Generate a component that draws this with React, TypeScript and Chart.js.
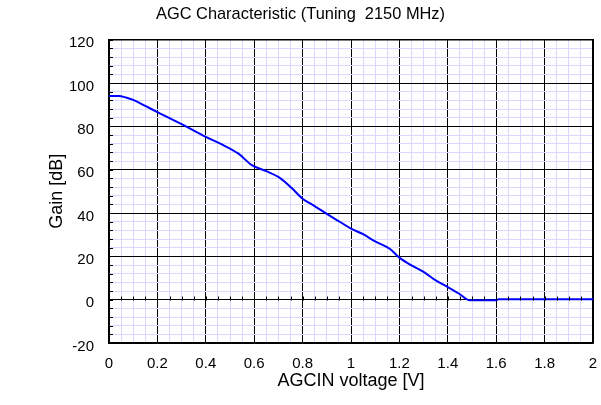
import React, { useEffect, useRef } from "react";
import { Chart, registerables } from "chart.js";

Chart.register(...registerables);

const titleText = "AGC Characteristic (Tuning  2150 MHz)";
const xTitle = "AGCIN voltage [V]";
const yTitle = "Gain [dB]";

const voltages = [0, 0.04, 0.07, 0.1, 0.15, 0.2, 0.3, 0.4, 0.46, 0.535, 0.59, 0.65, 0.71, 0.755, 0.8, 0.845, 0.9, 0.95, 1.0, 1.05, 1.1, 1.16, 1.2, 1.25, 1.3, 1.35, 1.4, 1.45, 1.49, 1.6, 1.61, 2.0];
const gains = [94, 94, 93.3, 92.2, 89.4, 86.6, 81, 75.1, 72, 67.4, 62.1, 59.3, 55.9, 51.5, 46.6, 43.5, 39.6, 36.2, 32.8, 30.2, 26.9, 23.5, 19.4, 15.8, 12.8, 8.9, 5.8, 2.5, -0.3, -0.3, 0.2, 0.2];

const xMin = 0, xMax = 2, xMinor = 0.05, xMajor = 0.2;
const yMin = -20, yMax = 120, yMinor = 4, yMajor = 20;

const isMultiple = (v: number, step: number) => Math.abs(v / step - Math.round(v / step)) < 1e-6;

const FONT = "'Liberation Sans', Arial, sans-serif";

const tickPlugin = {
  id: "innerTicks",
  afterDatasetsDraw(chart: any) {
    const { ctx, chartArea, scales } = chart;
    const xs = scales.x, ys = scales.y;
    ctx.save();
    ctx.strokeStyle = "#000";
    ctx.lineWidth = 1;
    ctx.beginPath();
    const ny = Math.round((yMax - yMin) / yMinor);
    for (let i = 0; i <= ny; i++) {
      const py = Math.round(ys.getPixelForValue(yMin + i * yMinor)) + 0.5;
      ctx.moveTo(chartArea.left, py);
      ctx.lineTo(chartArea.left + 4, py);
    }
    const y0 = Math.round(ys.getPixelForValue(0)) + 0.5;
    const nx = Math.round((xMax - xMin) / xMinor);
    for (let i = 0; i <= nx; i++) {
      const px = Math.round(xs.getPixelForValue(xMin + i * xMinor)) + 0.5;
      ctx.moveTo(px, y0);
      ctx.lineTo(px, y0 - 4);
    }
    ctx.stroke();
    ctx.restore();
  },
};

export default function App() {
  const ref = useRef<HTMLCanvasElement | null>(null);
  useEffect(() => {
    if (!ref.current) return;
    const chart = new Chart(ref.current, {
      type: "scatter",
      data: {
        datasets: [
          {
            data: voltages.map((v, i) => ({ x: v, y: gains[i] })),
            showLine: true,
            borderColor: "#0000ff",
            borderWidth: 2,
            pointRadius: 0,
            tension: 0.4,
            cubicInterpolationMode: "monotone",
          } as any,
        ],
      },
      options: {
        animation: false,
        responsive: false,
        maintainAspectRatio: false,
        layout: { padding: { left: 0, right: 0, top: 0, bottom: 0 } },
        plugins: {
          legend: { display: false },
          tooltip: { enabled: false },
          title: {
            display: true,
            text: titleText,
            color: "#000",
            font: { family: FONT, size: 16.4, weight: "normal" },
            padding: { top: 5, bottom: 15 },
          },
        },
        scales: {
          x: {
            type: "linear",
            min: xMin,
            max: xMax,
            afterFit: (scale: any) => {
              scale.height = 62;
              scale.paddingRight = 8;
              scale.paddingLeft = 0;
            },
            ticks: {
              stepSize: xMinor,
              autoSkip: false,
              maxRotation: 0,
              color: "#000",
              padding: 12,
              font: { family: FONT, size: 15 },
              callback: (v: any) => (isMultiple(Number(v), xMajor) ? String(+Number(v).toFixed(2)) : ""),
            },
            grid: {
              drawTicks: false,
              color: (c: any) => (c.tick && isMultiple(c.tick.value, xMajor) ? "#000" : "#d9d9ff"),
              lineWidth: 1,
            },
            border: { display: true, color: "#000", width: 1.5 },
            title: {
              display: true,
              text: xTitle,
              color: "#000",
              font: { family: FONT, size: 18 },
              padding: { top: 0, bottom: 13 },
            },
          },
          y: {
            type: "linear",
            min: yMin,
            max: yMax,
            afterFit: (scale: any) => { scale.width = 109; },
            ticks: {
              stepSize: yMinor,
              autoSkip: false,
              color: "#000",
              padding: 15,
              labelOffset: 3.5,
              font: { family: FONT, size: 15 },
              callback: (v: any) => (isMultiple(Number(v), yMajor) ? String(v) : ""),
            },
            grid: {
              drawTicks: false,
              color: (c: any) => (c.tick && isMultiple(c.tick.value, yMajor) ? "#000" : "#d9d9ff"),
              lineWidth: 1,
            },
            border: { display: true, color: "#000", width: 1.5 },
            title: {
              display: true,
              text: yTitle,
              color: "#000",
              font: { family: FONT, size: 18 },
              padding: { top: 46, bottom: 0 },
            },
          },
          x2: {
            type: "linear",
            position: "top",
            display: true,
            min: xMin,
            max: xMax,
            ticks: { display: false },
            grid: { display: false, drawTicks: false },
            border: { display: true, color: "#000", width: 1.5 },
            afterFit: (scale: any) => { scale.height = 0; scale.paddingRight = 0; scale.paddingLeft = 0; },
          },
          y2: {
            type: "linear",
            position: "right",
            display: true,
            min: yMin,
            max: yMax,
            ticks: { display: false },
            grid: { display: false, drawTicks: false },
            border: { display: true, color: "#000", width: 1.5 },
            afterFit: (scale: any) => { scale.width = 0; },
          },
        },
      },
      plugins: [tickPlugin],
    } as any);
    return () => chart.destroy();
  }, []);
  return (
    <div style={{ position: "fixed", left: 0, top: 0, width: 601, height: 405, background: "#fff" }}>
      <canvas ref={ref} width={601} height={405} style={{ width: 601, height: 405, display: "block" }} />
    </div>
  );
}
